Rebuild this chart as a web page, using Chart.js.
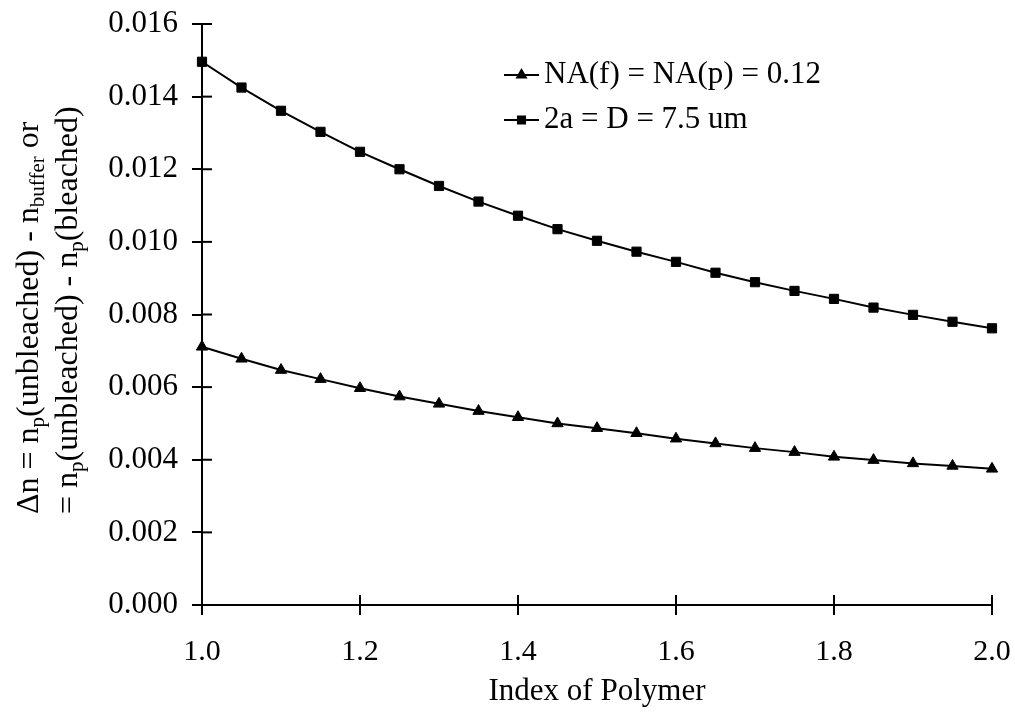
<!DOCTYPE html>
<html><head><meta charset="utf-8">
<script src="https://cdn.jsdelivr.net/npm/chart.js@4/dist/chart.umd.min.js"></script>
<style>html,body{margin:0;padding:0;background:#fff;}#wrap{width:1015px;height:713px;}</style>
</head><body><div id="wrap"><canvas id="c" width="1015" height="713"></canvas></div>
<script>
const polymerIndex = [1.00,1.05,1.10,1.15,1.20,1.25,1.30,1.35,1.40,1.45,1.50,1.55,1.60,1.65,1.70,1.75,1.80,1.85,1.90,1.95,2.00];
const naSeries = [0.00711,0.00678,0.00647,0.00622,0.00597,0.00574,0.00554,0.00534,0.00517,0.00500,0.00487,0.00473,0.00458,0.00445,0.00432,0.00421,0.00408,0.00399,0.00390,0.00383,0.00375];
const coreSeries = [0.01496,0.01425,0.01361,0.01303,0.01248,0.01200,0.01154,0.01111,0.01072,0.01035,0.01003,0.00973,0.00945,0.00915,0.00889,0.00865,0.00843,0.00819,0.00799,0.00780,0.00762];
const seriesLabels = ['NA(f) = NA(p) = 0.12', '2a = D = 7.5 um'];
const seriesMarkers = ['triangle', 'rect'];
const xTickValues = [1.0,1.2,1.4,1.6,1.8,2.0];
const yTickValues = [0.000,0.002,0.004,0.006,0.008,0.010,0.012,0.014,0.016];
const xTitle = 'Index of Polymer';
const yTitleLine1 = [['Δn = n',false],['p',true],['(unbleached) - n',false],['buffer',true],[' or',false]];
const yTitleLine2 = [['= n',false],['p',true],['(unbleached) - n',false],['p',true],['(bleached)',false]];

const FONT = 'Liberation Serif, Times New Roman, serif';
const pts = s => polymerIndex.map((x,i)=>({x:x,y:s[i]}));
const noPad = s => { s.paddingTop=0; s.paddingBottom=0; s.paddingLeft=0; s.paddingRight=0; };

const innerTicks = {
  id:'innerTicks',
  afterDraw(chart){
    const ctx=chart.ctx, a=chart.chartArea, xs=chart.scales.x, ys=chart.scales.y;
    ctx.save(); ctx.strokeStyle='#000'; ctx.lineWidth=2;
    xTickValues.forEach(v=>{const px=xs.getPixelForValue(v); ctx.beginPath(); ctx.moveTo(px,a.bottom); ctx.lineTo(px,a.bottom-10); ctx.stroke();});
    yTickValues.forEach(v=>{const py=ys.getPixelForValue(v); ctx.beginPath(); ctx.moveTo(a.left,py); ctx.lineTo(a.left+10,py); ctx.stroke();});
    ctx.restore();
  }
};
const customLegend = {
  id:'customLegend',
  afterDraw(chart,args,o){
    const ctx=chart.ctx;
    ctx.save();
    chart.data.datasets.forEach((ds,i)=>{
      const y=o.y+i*o.gap;
      ctx.strokeStyle='#000'; ctx.lineWidth=2;
      ctx.beginPath(); ctx.moveTo(o.x,y); ctx.lineTo(o.x+o.len,y); ctx.stroke();
      ctx.fillStyle='#000';
      Chart.helpers.drawPoint(ctx,{pointStyle:ds.pointStyle,radius:5,rotation:0,borderWidth:1},o.x+o.len/2,y);
      ctx.font=o.size+'px '+FONT; ctx.textBaseline='middle'; ctx.textAlign='left';
      ctx.fillText(ds.label,o.x+o.len+5,y);
    });
    ctx.restore();
  }
};
const yTitle = {
  id:'yTitle',
  afterDraw(chart,args,o){
    const ctx=chart.ctx;
    ctx.save(); ctx.fillStyle='#000'; ctx.textBaseline='alphabetic'; ctx.textAlign='left';
    [[yTitleLine1,o.x1],[yTitleLine2,o.x2]].forEach(([segs,bx])=>{
      ctx.save(); ctx.translate(bx,o.start); ctx.rotate(-Math.PI/2);
      let cx=0;
      segs.forEach(([t,sub])=>{
        ctx.font=(sub?o.sub:o.size)+'px '+FONT;
        ctx.fillText(t,cx,sub?o.subShift:0);
        cx+=ctx.measureText(t).width;
      });
      ctx.restore();
    });
    ctx.restore();
  }
};

new Chart(document.getElementById('c'),{
  type:'line',
  data:{datasets:[
    {label:seriesLabels[0],data:pts(naSeries),pointStyle:seriesMarkers[0],pointRadius:6.5,pointHoverRadius:6.5,borderColor:'#000',backgroundColor:'#000',pointBackgroundColor:'#000',pointBorderColor:'#000',pointBorderWidth:1,borderWidth:2,tension:0,clip:false,fill:false},
    {label:seriesLabels[1],data:pts(coreSeries),pointStyle:seriesMarkers[1],pointRadius:6.5,pointHoverRadius:6.5,borderColor:'#000',backgroundColor:'#000',pointBackgroundColor:'#000',pointBorderColor:'#000',pointBorderWidth:1,borderWidth:2,tension:0,clip:false,fill:false}
  ]},
  options:{
    responsive:false, animation:false, devicePixelRatio:1,
    layout:{padding:{top:24,right:23,bottom:0,left:0}},
    plugins:{legend:{display:false},tooltip:{enabled:false},
      customLegend:{x:504,y:75,gap:45,len:35,size:31},
      yTitle:{x1:38,x2:77,start:514,size:32,sub:21,subShift:6}
    },
    scales:{
      x:{type:'linear',min:1,max:2,
        border:{color:'#000',width:2},
        grid:{drawOnChartArea:false,drawTicks:true,tickLength:10,color:'#000',lineWidth:2},
        afterBuildTicks(s){s.ticks=xTickValues.map(v=>({value:v}));},
        ticks:{color:'#000',padding:19,maxRotation:0,font:{family:FONT,size:30},callback:v=>Number(v).toFixed(1)},
        title:{display:true,text:xTitle,color:'#000',font:{family:FONT,size:31},padding:{top:0,bottom:3}},
        afterFit(s){s.height=108; noPad(s);}
      },
      y:{type:'linear',min:0,max:0.016,
        border:{color:'#000',width:2},
        grid:{drawOnChartArea:false,drawTicks:true,tickLength:10,color:'#000',lineWidth:2},
        afterBuildTicks(s){s.ticks=yTickValues.map(v=>({value:v}));},
        ticks:{color:'#000',padding:14,font:{family:FONT,size:31},callback:v=>Number(v).toFixed(3)},
        afterFit(s){s.width=202; noPad(s);}
      }
    }
  },
  plugins:[innerTicks,customLegend,yTitle]
});
</script></body></html>
